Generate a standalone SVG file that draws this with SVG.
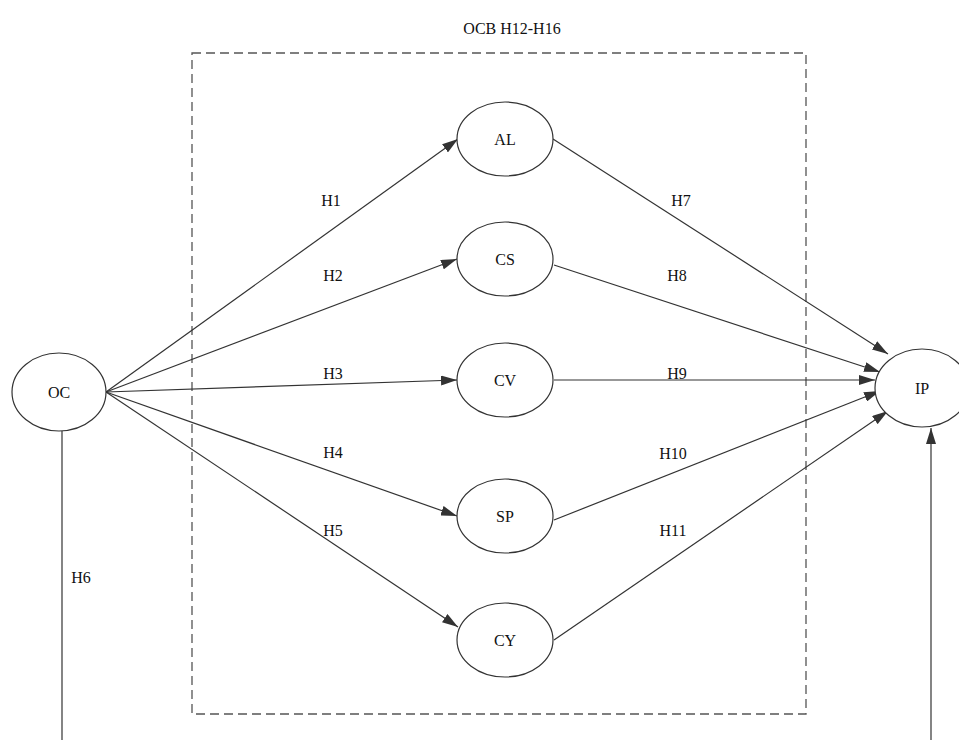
<svg xmlns="http://www.w3.org/2000/svg" width="959" height="740" viewBox="0 0 959 740">
<style>
.n{fill:#fff;stroke:#333;stroke-width:1.2}
.t{font-family:"Liberation Serif","DejaVu Serif",serif;font-size:16px;fill:#111}
.c{stroke:#333;stroke-width:1.2;fill:none}
</style>
<defs>
<marker id="ah" viewBox="0 0 16 10" refX="16" refY="5" markerWidth="16" markerHeight="10" markerUnits="userSpaceOnUse" orient="auto">
<path d="M0,0 L16,5 L0,10 Z" fill="#333"/>
</marker>
</defs>
<rect width="959" height="740" fill="#fff"/>
<rect x="192" y="53" width="614" height="661" fill="none" stroke="#555" stroke-width="1.3" stroke-dasharray="9,5"/>
<text class="t" x="512" y="34" text-anchor="middle" font-size="13">OCB  H12-H16</text>
<g id="connectors">
<line class="c" x1="106" y1="392" x2="458" y2="139" marker-end="url(#ah)"/>
<line class="c" x1="106" y1="392" x2="457" y2="259" marker-end="url(#ah)"/>
<line class="c" x1="106" y1="392" x2="457" y2="380" marker-end="url(#ah)"/>
<line class="c" x1="106" y1="392" x2="457" y2="516" marker-end="url(#ah)"/>
<line class="c" x1="106" y1="392" x2="458" y2="627" marker-end="url(#ah)"/>
<line class="c" x1="553" y1="139" x2="888" y2="354" marker-end="url(#ah)"/>
<line class="c" x1="554" y1="265" x2="880" y2="372" marker-end="url(#ah)"/>
<line class="c" x1="554" y1="380" x2="875" y2="380" marker-end="url(#ah)"/>
<line class="c" x1="554" y1="520" x2="880" y2="391" marker-end="url(#ah)"/>
<line class="c" x1="554" y1="640" x2="888" y2="411" marker-end="url(#ah)"/>
<line class="c" x1="62" y1="431" x2="62" y2="740"/>
<line class="c" x1="931" y1="740" x2="931" y2="428" marker-end="url(#ah)"/>
<text class="t" x="331" y="206" text-anchor="middle">H1</text>
<text class="t" x="333" y="281" text-anchor="middle">H2</text>
<text class="t" x="333" y="379" text-anchor="middle">H3</text>
<text class="t" x="333" y="458" text-anchor="middle">H4</text>
<text class="t" x="333" y="536" text-anchor="middle">H5</text>
<text class="t" x="81" y="583" text-anchor="middle">H6</text>
<text class="t" x="681" y="206" text-anchor="middle">H7</text>
<text class="t" x="677" y="281" text-anchor="middle">H8</text>
<text class="t" x="677" y="379" text-anchor="middle">H9</text>
<text class="t" x="673" y="459" text-anchor="middle">H10</text>
<text class="t" x="673" y="536" text-anchor="middle">H11</text>
</g>
<g id="OC"><ellipse class="n" cx="59" cy="392" rx="47" ry="39"/><text class="t" x="59" y="398" text-anchor="middle">OC</text></g>
<g id="AL"><ellipse class="n" cx="505" cy="139" rx="48" ry="37"/><text class="t" x="505" y="145" text-anchor="middle">AL</text></g>
<g id="CS"><ellipse class="n" cx="505" cy="259" rx="48" ry="37"/><text class="t" x="505" y="265" text-anchor="middle">CS</text></g>
<g id="CV"><ellipse class="n" cx="505" cy="380" rx="48" ry="37"/><text class="t" x="505" y="386" text-anchor="middle">CV</text></g>
<g id="SP"><ellipse class="n" cx="505" cy="516" rx="48" ry="37"/><text class="t" x="505" y="522" text-anchor="middle">SP</text></g>
<g id="CY"><ellipse class="n" cx="505" cy="640" rx="48" ry="37"/><text class="t" x="505" y="646" text-anchor="middle">CY</text></g>
<g id="IP"><ellipse class="n" cx="922" cy="388" rx="47" ry="39"/><text class="t" x="922" y="394" text-anchor="middle">IP</text></g>
</svg>
